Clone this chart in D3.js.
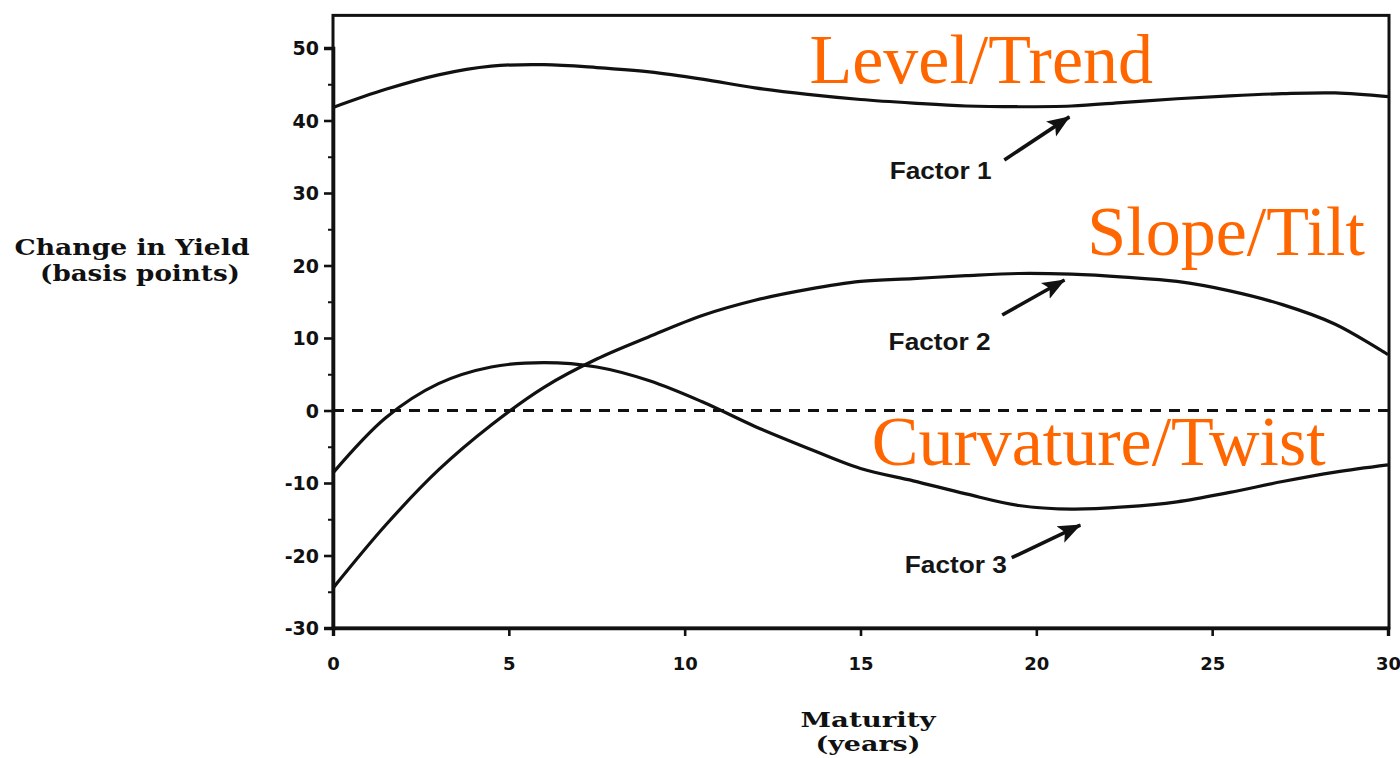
<!DOCTYPE html>
<html>
<head>
<meta charset="utf-8">
<script src="https://cdn.jsdelivr.net/npm/d3@7"></script>
<style>
  html, body { margin: 0; padding: 0; background: #fff; }
  svg { display: block; }
</style>
</head>
<body>
<svg id="chart" width="1400" height="758"></svg>
<script>
// ---- data ----
const maturities = [0, 1.5, 3, 4.5, 6, 7.5, 9, 10.5, 12, 13.5, 15, 16.5, 18, 19.5, 21, 22.5, 24, 25.5, 27, 28.5, 30];
const factor1 = [41.8, 44.3, 46.3, 47.5, 47.7, 47.3, 46.7, 45.7, 44.5, 43.6, 42.9, 42.4, 42.0, 41.9, 42.0, 42.5, 43.0, 43.4, 43.7, 43.8, 43.3];
const factor2 = [-24.5, -15.8, -8.2, -2.0, 3.2, 7.1, 10.2, 13.1, 15.2, 16.7, 17.8, 18.2, 18.6, 18.9, 18.8, 18.4, 17.8, 16.5, 14.6, 11.9, 7.7];
const factor3 = [-8.6, -1.0, 3.7, 6.0, 6.6, 6.0, 4.1, 1.2, -2.2, -5.2, -8.0, -9.7, -11.5, -13.1, -13.6, -13.3, -12.6, -11.3, -9.8, -8.5, -7.5];

const yTicks = [-30, -20, -10, 0, 10, 20, 30, 40, 50];
const yMinorTicks = [-25, -15, -5, 5, 15, 25, 35, 45];
const xTicks = [0, 5, 10, 15, 20, 25, 30];

const factorNames = ["Factor 1", "Factor 2", "Factor 3"];
const factorNamePos = [[15.83, 32.0], [15.8, 8.3], [16.26, -22.4]];
const arrowFrom = [[19.09, 34.55], [19.03, 13.17], [19.3, -20.3]];
const arrowTo = [[20.94, 40.5], [20.8, 18.0], [21.25, -15.8]];

const interpretations = ["Level/Trend", "Slope/Tilt", "Curvature/Twist"];
const interpretationPos = [[13.55, 45.2], [21.45, 21.4], [15.32, -7.5]];

const yTitle = ["Change in Yield", "(basis points)"];
const xTitle = ["Maturity", "(years)"];

// ---- scales ----
const x = d3.scaleLinear().domain([0, 30]).range([333, 1388]);
const y = d3.scaleLinear().domain([-30, 50]).range([628, 48]);
const yTop = 54.5;

const svg = d3.select("#chart");
const fmt = d => String(d);  // plain hyphen-minus as in the scan

// frame
svg.append("rect")
  .attr("x", x(0)).attr("y", y(yTop))
  .attr("width", x(30) - x(0) + 1).attr("height", y(-30) - y(yTop))
  .attr("fill", "none").attr("stroke", "#111").attr("stroke-width", 3);

// zero dashed line
svg.append("line")
  .attr("x1", x(0)).attr("x2", x(30))
  .attr("y1", y(0)).attr("y2", y(0))
  .attr("stroke", "#111").attr("stroke-width", 3)
  .attr("stroke-dasharray", "11,8");

// y axis
const yAxis = svg.append("g")
  .attr("transform", `translate(${x(0)},0)`)
  .call(d3.axisLeft(y).tickValues(yTicks).tickSize(9).tickPadding(5).tickFormat(fmt));
yAxis.select(".domain").attr("stroke", "#111").attr("stroke-width", 3.6);
yAxis.selectAll(".tick line").attr("stroke", "#111").attr("stroke-width", 2.6);
yAxis.selectAll(".tick text")
  .attr("font-family", "'DejaVu Sans', sans-serif").attr("font-weight", "bold")
  .attr("font-size", 19).attr("fill", "#111").attr("dy", "0.36em");

// y minor ticks
const yMinor = svg.append("g")
  .attr("transform", `translate(${x(0)},0)`)
  .call(d3.axisLeft(y).tickValues(yMinorTicks).tickSize(5).tickFormat(""));
yMinor.select(".domain").remove();
yMinor.selectAll(".tick line").attr("stroke", "#111").attr("stroke-width", 2);

// x axis
const xAxis = svg.append("g")
  .attr("transform", `translate(0,${y(-30)})`)
  .call(d3.axisBottom(x).tickValues(xTicks).tickSize(8).tickPadding(21).tickFormat(fmt));
xAxis.select(".domain").attr("stroke", "#111").attr("stroke-width", 3.4);
xAxis.selectAll(".tick line").attr("stroke", "#111").attr("stroke-width", 2.6);
xAxis.selectAll(".tick text")
  .attr("font-family", "'DejaVu Sans', sans-serif").attr("font-weight", "bold")
  .attr("font-size", 18).attr("fill", "#111");

// factor lines
const line = d3.line()
  .x((d, i) => x(maturities[i]))
  .y(d => y(d))
  .curve(d3.curveCatmullRom.alpha(0.5));

[factor1, factor2, factor3].forEach(series => {
  svg.append("path")
    .datum(series)
    .attr("d", line)
    .attr("fill", "none")
    .attr("stroke", "#111")
    .attr("stroke-width", 3.2)
    .attr("stroke-linejoin", "round");
});

// arrow marker
svg.append("defs").append("marker")
  .attr("id", "arrowhead")
  .attr("markerUnits", "userSpaceOnUse")
  .attr("markerWidth", 24).attr("markerHeight", 20)
  .attr("viewBox", "0 0 24 20")
  .attr("refX", 22).attr("refY", 10)
  .attr("orient", "auto")
  .append("path")
  .attr("d", "M0,1 L23,10 L0,19 L5,10 Z")
  .attr("fill", "#111");

// factor labels and arrows
factorNames.forEach((name, i) => {
  svg.append("text")
    .attr("x", x(factorNamePos[i][0]))
    .attr("y", y(factorNamePos[i][1]))
    .attr("font-family", "'Liberation Sans', Arial, sans-serif")
    .attr("font-weight", "bold")
    .attr("font-size", 24)
    .attr("textLength", 102)
    .attr("lengthAdjust", "spacingAndGlyphs")
    .attr("fill", "#151515")
    .text(name);
  svg.append("line")
    .attr("x1", x(arrowFrom[i][0])).attr("y1", y(arrowFrom[i][1]))
    .attr("x2", x(arrowTo[i][0])).attr("y2", y(arrowTo[i][1]))
    .attr("stroke", "#111").attr("stroke-width", 3.6)
    .attr("marker-end", "url(#arrowhead)");
});

// orange interpretation labels
interpretations.forEach((t, i) => {
  svg.append("text")
    .attr("x", x(interpretationPos[i][0]))
    .attr("y", y(interpretationPos[i][1]))
    .attr("font-family", "'Liberation Serif', 'Times New Roman', serif")
    .attr("font-size", 70)
    .attr("fill", "#FF6600")
    .text(t);
});

// axis titles
const titleFont = "'DejaVu Serif', serif";
svg.append("text")
  .attr("x", 132).attr("y", 255)
  .attr("text-anchor", "middle")
  .attr("font-family", titleFont).attr("font-weight", "bold")
  .attr("font-size", 22).attr("textLength", 235).attr("lengthAdjust", "spacingAndGlyphs")
  .attr("fill", "#111").text(yTitle[0]);
svg.append("text")
  .attr("x", 140).attr("y", 281)
  .attr("text-anchor", "middle")
  .attr("font-family", titleFont).attr("font-weight", "bold")
  .attr("font-size", 22).attr("textLength", 200).attr("lengthAdjust", "spacingAndGlyphs")
  .attr("fill", "#111").text(yTitle[1]);

svg.append("text")
  .attr("x", 868).attr("y", 727)
  .attr("text-anchor", "middle")
  .attr("font-family", titleFont).attr("font-weight", "bold")
  .attr("font-size", 21).attr("textLength", 135).attr("lengthAdjust", "spacingAndGlyphs")
  .attr("fill", "#111").text(xTitle[0]);
svg.append("text")
  .attr("x", 868).attr("y", 751)
  .attr("text-anchor", "middle")
  .attr("font-family", titleFont).attr("font-weight", "bold")
  .attr("font-size", 21).attr("textLength", 105).attr("lengthAdjust", "spacingAndGlyphs")
  .attr("fill", "#111").text(xTitle[1]);
</script>
</body>
</html>
